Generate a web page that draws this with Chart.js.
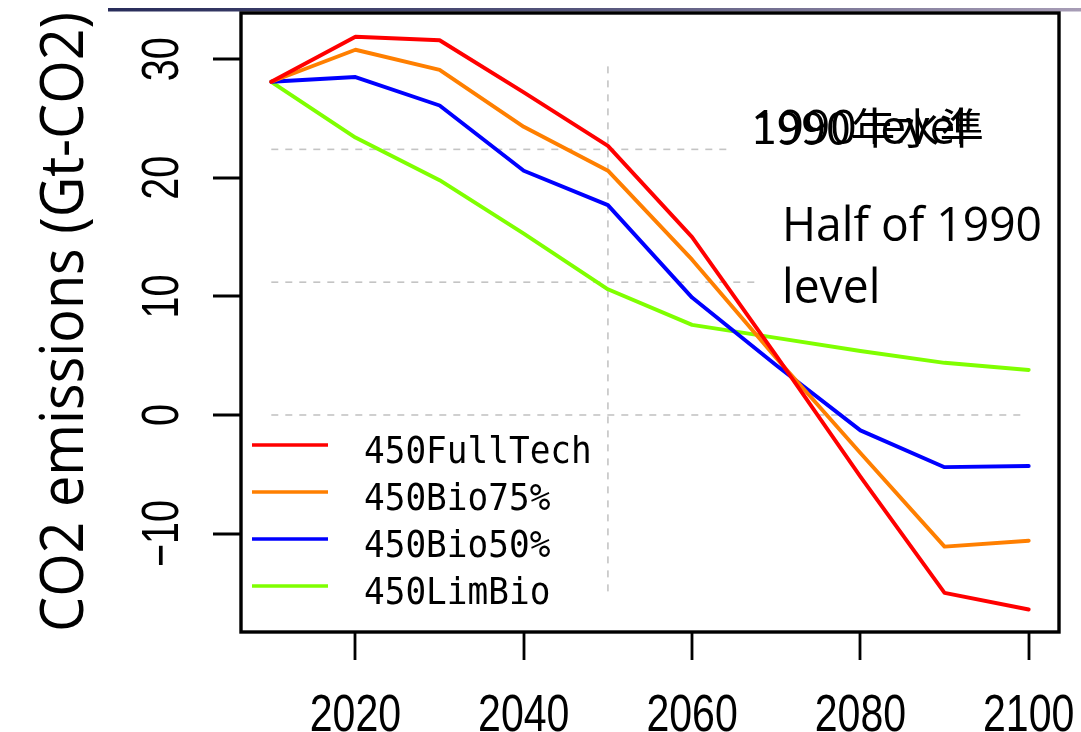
<!DOCTYPE html>
<html>
<head>
<meta charset="utf-8">
<title>CO2 emissions pathways</title>
<script src="https://cdn.jsdelivr.net/npm/chart.js@4.4.1/dist/chart.umd.min.js"></script>
<style>
  html, body { margin: 0; padding: 0; background: #ffffff; }
  #wrap { position: relative; width: 1081px; height: 732px; }
</style>
</head>
<body>
<div id="wrap"><canvas id="chart" width="1081" height="732"></canvas></div>
<script>
// Scenario years
const years = [2010, 2020, 2030, 2040, 2050, 2060, 2070, 2080, 2090, 2100];

// CO2 emissions (Gt-CO2) per scenario
const fullTech = [28.1, 31.9, 31.6, 27.2, 22.7, 15.0, 5.0, -5.2, -15.0, -16.4];
const bio75    = [28.1, 30.8, 29.1, 24.3, 20.6, 13.1, 4.8, -3.2, -11.1, -10.6];
const bio50    = [28.1, 28.5, 26.1, 20.6, 17.7, 9.9, 4.2, -1.3, -4.4, -4.3];
const limBio   = [28.1, 23.4, 19.8, 15.3, 10.6, 7.6, 6.5, 5.4, 4.4, 3.8];

const seriesNames  = ['450FullTech', '450Bio75%', '450Bio50%', '450LimBio'];
const seriesColors = ['#ff0000', '#ff7f00', '#0000ff', '#7fff00'];

// Reference levels: 1990 level, half of 1990 level, zero
const refLevels = [22.4, 11.2, 0];
const refStart  = 2010;
const refEnds   = [2064.2, 2067.8, 2099.5];
const markYear  = 2050;
const markRange = [29.4, -15.4];

// Axis ticks
const xTicks = [2020, 2040, 2060, 2080, 2100];
const yTicks = [-10, 0, 10, 20, 30];

// Text
const yTitle = 'CO2 emissions (Gt-CO2)';
const level1990En = '1990 level';
const level1990Ja = '1990年水準';
const halfLevel = ['Half of 1990', 'level'];

const toPoints = (xs, ys) => xs.map((x, i) => ({ x: x, y: ys[i] }));

const refStyle = {
  borderColor: '#c4c4c4', borderWidth: 1.6, borderDash: [7, 7],
  pointRadius: 0, fill: false, order: 10
};

const datasets = [
  { label: seriesNames[0], data: toPoints(years, fullTech) },
  { label: seriesNames[1], data: toPoints(years, bio75) },
  { label: seriesNames[2], data: toPoints(years, bio50) },
  { label: seriesNames[3], data: toPoints(years, limBio) }
].map((d, i) => Object.assign(d, {
  borderColor: seriesColors[i], borderWidth: 3.9, pointRadius: 0,
  tension: 0, fill: false, order: i, borderJoinStyle: 'round', borderCapStyle: 'round'
}));

refLevels.forEach((lv, i) => {
  datasets.push(Object.assign({ label: 'ref' + i,
    data: [{ x: refStart, y: lv }, { x: refEnds[i], y: lv }] }, refStyle));
});
datasets.push(Object.assign({ label: 'ref2050',
  data: [{ x: markYear, y: markRange[0] }, { x: markYear, y: markRange[1] }] }, refStyle));

// Draw text at a given font size, squeezed horizontally to span a given width
function fitText(ctx, text, family, size, width, x, y) {
  ctx.font = size + 'px ' + family;
  const w = ctx.measureText(text).width;
  ctx.save();
  ctx.translate(x, y);
  ctx.scale(width / w, 1);
  ctx.fillText(text, 0, 0);
  ctx.restore();
}

const decorations = {
  id: 'decorations',
  afterDraw(chart) {
    const ctx = chart.ctx;
    const xs = chart.scales.x, ys = chart.scales.y;
    const a = chart.chartArea;
    ctx.save();

    // header rule
    const g = ctx.createLinearGradient(108, 0, 1081, 0);
    g.addColorStop(0, '#282c5a');
    g.addColorStop(0.5, '#56567c');
    g.addColorStop(1, '#a79db6');
    ctx.fillStyle = g;
    ctx.fillRect(108, 8, 973, 3.5);

    // plot frame
    ctx.strokeStyle = '#000';
    ctx.lineWidth = 3.4;
    ctx.strokeRect(a.left, a.top, a.right - a.left, a.bottom - a.top);

    // tick marks
    ctx.lineWidth = 2.8;
    ctx.beginPath();
    xTicks.forEach(t => {
      const px = Math.round(xs.getPixelForValue(t));
      ctx.moveTo(px, a.bottom); ctx.lineTo(px, a.bottom + 28);
    });
    yTicks.forEach(t => {
      const py = Math.round(ys.getPixelForValue(t));
      ctx.moveTo(a.left, py); ctx.lineTo(a.left - 28, py);
    });
    ctx.stroke();

    // tick labels (tall, narrow face)
    ctx.fillStyle = '#000';
    ctx.font = '52px "Liberation Sans", sans-serif';
    ctx.textAlign = 'center';
    ctx.textBaseline = 'alphabetic';
    xTicks.forEach(t => {
      ctx.save();
      ctx.translate(xs.getPixelForValue(t), 731);
      ctx.scale(0.79, 1);
      ctx.fillText(String(t), 0, 0);
      ctx.restore();
    });
    yTicks.forEach(t => {
      const py = ys.getPixelForValue(t);
      ctx.save();
      ctx.translate(178, py);
      ctx.rotate(-Math.PI / 2);
      ctx.scale(0.76, 1);
      ctx.fillText(t < 0 ? '\u2212' + Math.abs(t) : String(t), 0, 0);
      ctx.restore();
    });

    // axis title
    ctx.textAlign = 'left';
    const sans = '"Open Sans", sans-serif';
    ctx.save();
    ctx.translate(83, 632);
    ctx.rotate(-Math.PI / 2);
    fitText(ctx, yTitle, sans, 61, 620, 0, 0);
    ctx.restore();

    // annotations
    fitText(ctx, halfLevel[0], sans, 48, 260, 782, 241);
    ctx.font = '48px ' + sans;
    const hw = ctx.measureText(halfLevel[0]).width;
    ctx.save();
    ctx.translate(782, 303);
    ctx.scale(260 / hw, 1);
    ctx.fillText(halfLevel[1], 0, 0);
    ctx.restore();
    fitText(ctx, level1990En, sans, 48, 216, 751, 144);
    fitText(ctx, level1990Ja, '"Noto Sans CJK JP", sans-serif', 42, 232, 752, 144);

    // legend
    const rows = [445, 492, 539, 586];
    ctx.lineWidth = 3.6;
    seriesNames.forEach((name, i) => {
      ctx.strokeStyle = seriesColors[i];
      ctx.beginPath();
      ctx.moveTo(252, rows[i]); ctx.lineTo(328, rows[i]);
      ctx.stroke();
      ctx.save();
      ctx.translate(364, rows[i] + 18);
      ctx.scale(0.905, 1);
      ctx.font = '38px "DejaVu Sans Mono", monospace';
      ctx.fillStyle = '#000';
      ctx.fillText(name, 0, 0);
      ctx.restore();
    });

    ctx.restore();
  }
};

new Chart(document.getElementById('chart'), {
  type: 'line',
  data: { datasets: datasets },
  options: {
    responsive: false,
    animation: false,
    layout: { padding: { left: 241, right: 22, top: 13, bottom: 100 } },
    scales: {
      x: { type: 'linear', min: 2006.4, max: 2103.6, display: false },
      y: { type: 'linear', min: -18.3, max: 33.9, display: false }
    },
    plugins: { legend: { display: false }, tooltip: { enabled: false } },
    elements: { line: { tension: 0 } }
  },
  plugins: [decorations]
});
</script>
</body>
</html>
